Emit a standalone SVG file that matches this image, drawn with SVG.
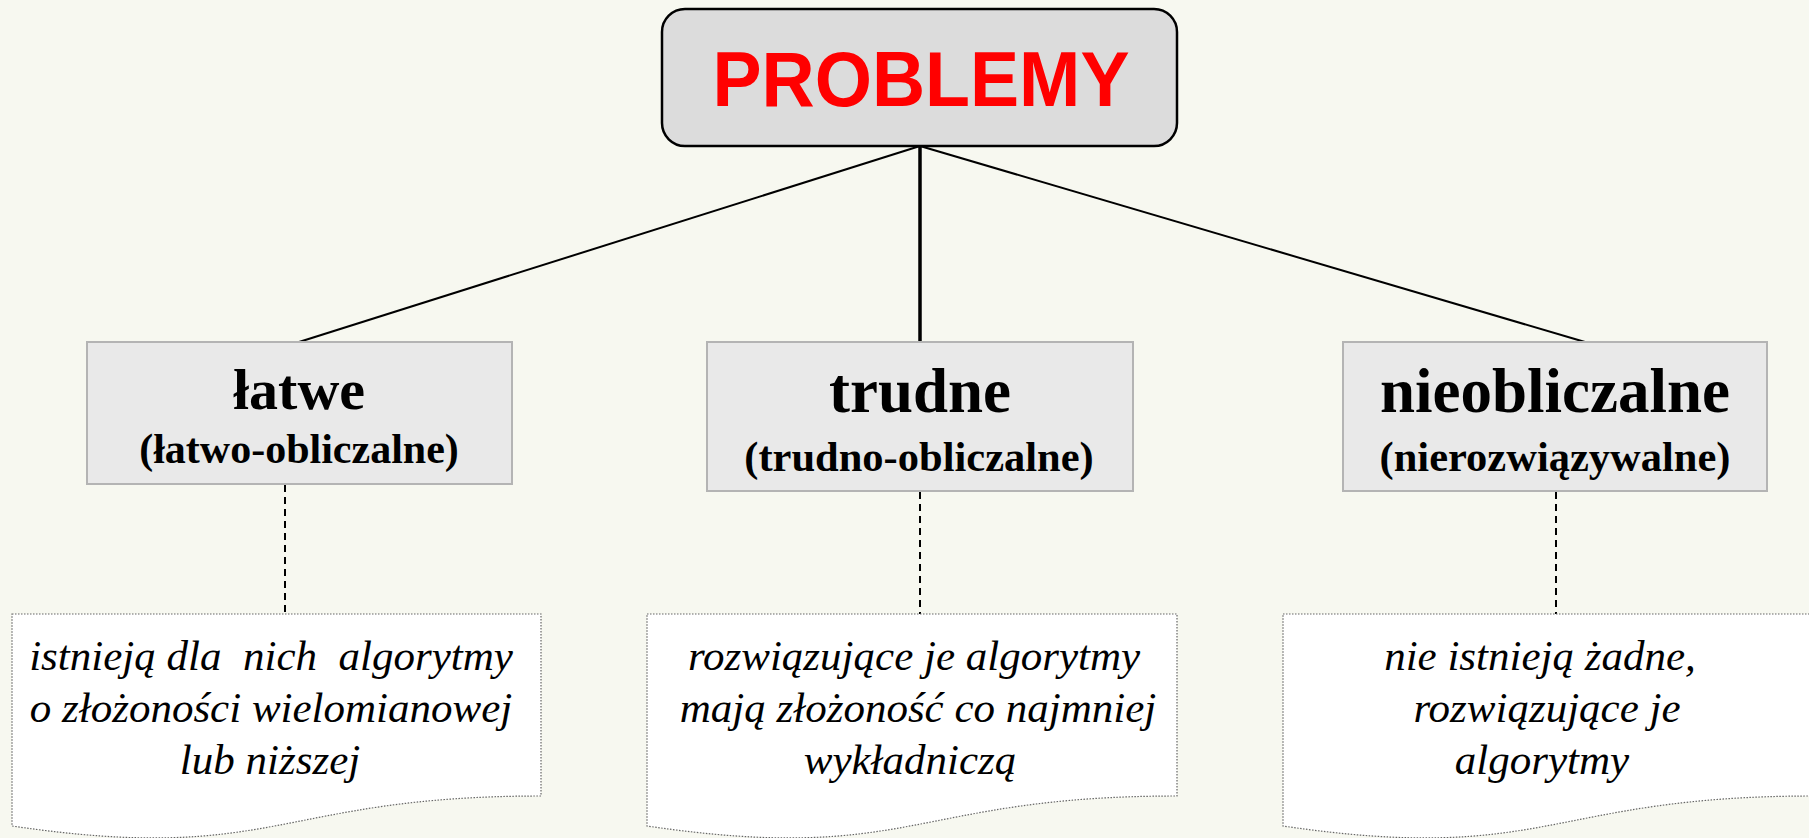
<svg xmlns="http://www.w3.org/2000/svg" width="1809" height="838" viewBox="0 0 1809 838">
<style>
.bg{fill:#f7f8f0}
.top{fill:#dcdcdc;stroke:#000;stroke-width:2.5}
.cat{fill:#e9e9e9;stroke:#b4b4b4;stroke-width:2}
.doc{fill:#fff;stroke:#666;stroke-width:1.2;stroke-dasharray:1.5 1.5}
.title{font-family:"Liberation Sans",Arial,sans-serif;font-weight:bold;fill:#ff0000;text-anchor:middle}
.h{font-family:"Liberation Serif","Times New Roman",serif;font-weight:bold;fill:#000;text-anchor:middle}
.d{font-family:"Liberation Serif","Times New Roman",serif;font-style:italic;font-size:43px;fill:#000;text-anchor:middle;white-space:pre}
.ln{stroke:#000;stroke-width:2;fill:none}
.dash{stroke:#000;stroke-width:2;stroke-dasharray:7 5;fill:none}
</style>
<rect class="bg" x="0" y="0" width="1809" height="838"/>
<g id="connectors">
<line class="ln" x1="920" y1="146" x2="299" y2="342"/>
<line class="ln" x1="920" y1="146" x2="920" y2="342" style="stroke-width:3.5"/>
<line class="ln" x1="920" y1="146" x2="1585" y2="342"/>
<line class="dash" x1="285" y1="485" x2="285" y2="614"/>
<line class="dash" x1="920" y1="492" x2="920" y2="614"/>
<line class="dash" x1="1556" y1="492" x2="1556" y2="614"/>
</g>
<g id="problemy">
<rect class="top" x="662" y="9" width="515" height="137" rx="23" ry="23"/>
<text class="title" x="921" y="106" font-size="78" textLength="417" lengthAdjust="spacingAndGlyphs">PROBLEMY</text>
</g>
<g id="latwe">
<rect class="cat" x="87" y="342" width="425" height="142"/>
<text class="h" x="299" y="409" font-size="58">łatwe</text>
<text class="h" x="299" y="463" font-size="42">(łatwo-obliczalne)</text>
</g>
<g id="trudne">
<rect class="cat" x="707" y="342" width="426" height="149"/>
<text class="h" x="920" y="412" font-size="63">trudne</text>
<text class="h" x="919" y="471" font-size="42.5">(trudno-obliczalne)</text>
</g>
<g id="nieobliczalne">
<rect class="cat" x="1343" y="342" width="424" height="149"/>
<text class="h" x="1555" y="412" font-size="63">nieobliczalne</text>
<text class="h" x="1555" y="471" font-size="42.5">(nierozwiązywalne)</text>
</g>
<g id="doc-latwe">
<path class="doc" d="M12,614 H541 V796 C276.5,796 276.5,865 12,826 Z"/>
<text class="d" x="271" y="670" xml:space="preserve">istnieją dla  nich  algorytmy</text>
<text class="d" x="271" y="722">o złożoności wielomianowej</text>
<text class="d" x="270" y="774">lub niższej</text>
</g>
<g id="doc-trudne">
<path class="doc" d="M647,614 H1177 V796 C912,796 912,865 647,826 Z"/>
<text class="d" x="914" y="670">rozwiązujące je algorytmy</text>
<text class="d" x="918" y="722">mają złożoność co najmniej</text>
<text class="d" x="910" y="774">wykładniczą</text>
</g>
<g id="doc-nieobliczalne">
<path class="doc" d="M1283,614 H1813 V796 C1548,796 1548,865 1283,826 Z"/>
<text class="d" x="1540" y="670">nie istnieją żadne,</text>
<text class="d" x="1547" y="722">rozwiązujące je</text>
<text class="d" x="1542" y="774">algorytmy</text>
</g>
</svg>
